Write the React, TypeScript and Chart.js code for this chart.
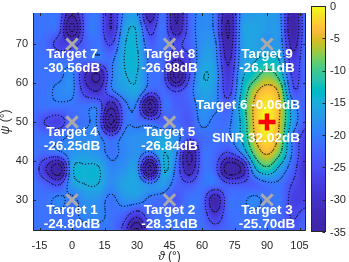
import React, { useEffect, useRef } from "react";
import { Chart, registerables } from "chart.js";

Chart.register(...registerables);

// ---------- data ----------
const thetaGrid = [-18, -12, -6, 0, 6, 12, 18, 24, 30, 36, 42, 48, 54, 60, 66, 72, 78, 84, 90, 96, 102, 108];
const psiGrid = [78, 74, 70, 66, 62, 58, 54, 50, 46, 42, 38, 34, 30, 26, 22];
// beam pattern (dB), one row per psiGrid entry, one column per thetaGrid entry
const powerDb = [
  [-21, -21, -22, -34, -23, -21, -30, -19, -18, -34, -21, -36, -23, -19, -21, -34, -19, -17, -17, -19, -34, -21],
  [-21, -21, -23, -42, -23, -21, -30, -17, -15.5, -27, -21, -34, -23, -18.5, -21, -36, -18, -16, -17, -18.5, -35, -21],
  [-21, -22, -27, -27, -23, -21, -25.5, -15.5, -15, -23, -21, -25.5, -23, -18, -19, -34, -18, -16, -18, -18, -32, -21],
  [-21, -21, -21, -22, -22, -21, -21, -15, -14.5, -21, -22, -30, -25.5, -17, -18, -31, -18, -15.5, -13.5, -15.5, -28, -21],
  [-21, -21, -21, -19, -30, -36, -21, -15.5, -15, -21, -23, -42, -25.5, -15.5, -17, -28.5, -16.5, -12, -8, -12, -26, -22],
  [-21, -21, -19, -19, -27, -30, -21, -17, -16, -23, -22, -25.5, -22, -16, -18, -27, -15, -6.5, -3.3, -6.5, -24, -22],
  [-21, -21, -21, -21, -21, -21, -34, -22, -21, -42, -22, -23, -23, -18, -19, -23, -13.5, -4.5, -1, -5, -18, -23],
  [-22, -25.5, -27, -22, -21, -21, -42, -22, -21, -22, -23, -22, -24, -19, -21, -21, -14.5, -4.5, 0, -5.5, -17, -24],
  [-21, -21, -21, -19, -18.5, -19, -23, -19, -18, -18, -16, -18, -24, -22, -21, -21, -15, -5.5, -1.3, -6.5, -21, -27],
  [-21, -22, -21, -18, -17, -18, -21, -19, -18, -21, -15, -19, -36, -22, -22, -25.5, -20, -9, -4.5, -9.5, -21, -28.5],
  [-22, -30, -39, -16, -14.5, -14.5, -19, -18, -18, -42, -15.5, -21, -34, -22, -23, -39, -35, -16.5, -11, -16.5, -23, -30],
  [-21, -23, -25.5, -17, -15, -15, -18.5, -16, -16, -19, -17, -22, -24, -21, -21, -24, -24, -23, -21, -21, -25.5, -28.5],
  [-21, -21, -19, -21, -18, -18, -21, -18, -18, -21, -22, -24, -21, -22, -34, -22, -21, -19, -21, -21, -27, -27],
  [-21, -21, -21, -21, -19, -19, -21, -23, -28.5, -22, -21, -21, -21, -22, -28.5, -22, -21, -21, -21, -22, -25.5, -23],
  [-21, -21, -21, -21, -21, -21, -21, -27, -42, -23, -21, -21, -21, -21, -23, -22, -21, -21, -21, -22, -24, -22],
];

const targetNames = ["Target 1", "Target 2", "Target 3", "Target 4", "Target 5", "Target 6", "Target 7", "Target 8", "Target 9"];
const targetTheta = [0, 45, 90, 0, 45, 90, 0, 45, 90];
const targetPsi = [30, 30, 30, 50, 50, 50, 70, 70, 70];
const targetGain = ["-24.80dB", "-28.31dB", "-25.70dB", "-26.25dB", "-26.84dB", "-0.06dB", "-30.56dB", "-26.98dB", "-26.11dB"];
const desiredIndex = 5;
const sinrText = "SINR 32.02dB";

const xTicks = [-15, 0, 15, 30, 45, 60, 75, 90, 105];
const yTicks = [30, 40, 50, 60, 70];
const cbTicks = [0, -5, -10, -15, -20, -25, -30, -35];
const contourLevels = [-5, -10, -15, -20, -25, -30, -35, -40, -45];
const xLimits = [-18, 108];
const yLimits = [22, 78];
const cLimits = [-35, 0];
const colorGamma = 1.6;

// MATLAB parula (64)
const parula = [
  [0.2422, 0.1504, 0.6603], [0.2504, 0.165, 0.7076], [0.2578, 0.1818, 0.7511], [0.2647, 0.1978, 0.7952],
  [0.2706, 0.2147, 0.8364], [0.2751, 0.2342, 0.871], [0.2783, 0.2559, 0.8991], [0.2803, 0.2782, 0.9221],
  [0.2813, 0.3006, 0.9414], [0.281, 0.3228, 0.9579], [0.2795, 0.3447, 0.9717], [0.276, 0.3667, 0.9829],
  [0.2699, 0.3892, 0.9906], [0.2602, 0.4123, 0.9952], [0.244, 0.4358, 0.9988], [0.2206, 0.4603, 0.9973],
  [0.1963, 0.4847, 0.9892], [0.1834, 0.5074, 0.9798], [0.1786, 0.5289, 0.9682], [0.1764, 0.5499, 0.952],
  [0.1687, 0.5703, 0.9359], [0.154, 0.5902, 0.9218], [0.146, 0.6091, 0.9079], [0.138, 0.6276, 0.8973],
  [0.1248, 0.6459, 0.8883], [0.1113, 0.6635, 0.8763], [0.0952, 0.6798, 0.8598], [0.0689, 0.6948, 0.8394],
  [0.0297, 0.7082, 0.8163], [0.0036, 0.7203, 0.7917], [0.0067, 0.7312, 0.766], [0.0433, 0.7411, 0.7394],
  [0.0964, 0.75, 0.712], [0.1408, 0.7584, 0.6842], [0.1717, 0.767, 0.6554], [0.1938, 0.7758, 0.6251],
  [0.2161, 0.7843, 0.5923], [0.247, 0.7918, 0.5567], [0.2906, 0.7973, 0.5188], [0.3406, 0.8008, 0.4789],
  [0.3909, 0.8029, 0.4354], [0.4456, 0.8024, 0.3909], [0.5044, 0.7993, 0.348], [0.5616, 0.7942, 0.3045],
  [0.6174, 0.7876, 0.2612], [0.672, 0.7793, 0.2227], [0.7242, 0.7698, 0.191], [0.7738, 0.7598, 0.1646],
  [0.8203, 0.7498, 0.1535], [0.8634, 0.7406, 0.1596], [0.9035, 0.733, 0.1774], [0.9393, 0.7288, 0.21],
  [0.9728, 0.7298, 0.2394], [0.9956, 0.7434, 0.2371], [0.997, 0.7659, 0.2199], [0.9952, 0.7893, 0.2028],
  [0.9892, 0.8136, 0.1885], [0.9786, 0.8386, 0.1766], [0.9676, 0.8639, 0.1643], [0.961, 0.889, 0.1537],
  [0.9597, 0.9135, 0.1423], [0.9628, 0.9373, 0.1265], [0.9691, 0.9606, 0.1064], [0.9769, 0.9839, 0.0805],
];

const FONT = "'Liberation Sans', Arial, Helvetica, sans-serif";
const AXIS_COLOR = "rgb(38,38,38)";

function clampI(i: number, n: number) {
  return i < 0 ? 0 : i > n - 1 ? n - 1 : i;
}
function cubic(p0: number, p1: number, p2: number, p3: number, t: number) {
  return p1 + 0.5 * t * (p2 - p0 + t * (2 * p0 - 5 * p1 + 4 * p2 - p3 + t * (3 * (p1 - p2) + p3 - p0)));
}
function fieldAt(theta: number, psi: number) {
  const nx = thetaGrid.length;
  const ny = psiGrid.length;
  const gx = (theta - thetaGrid[0]) / (thetaGrid[1] - thetaGrid[0]);
  const gy = (psiGrid[0] - psi) / (psiGrid[0] - psiGrid[1]);
  const ix = Math.floor(gx);
  const iy = Math.floor(gy);
  const tx = gx - ix;
  const ty = gy - iy;
  const row = (j: number) => {
    const r = powerDb[clampI(j, ny)];
    return cubic(r[clampI(ix - 1, nx)], r[clampI(ix, nx)], r[clampI(ix + 1, nx)], r[clampI(ix + 2, nx)], tx);
  };
  return cubic(row(iy - 1), row(iy), row(iy + 1), row(iy + 2), ty);
}
function colorFor(v: number): [number, number, number] {
  let t = (v - cLimits[0]) / (cLimits[1] - cLimits[0]);
  t = Math.max(0, Math.min(1, t));
  t = Math.pow(t, colorGamma);
  const f = t * (parula.length - 1);
  const i = Math.min(parula.length - 2, Math.floor(f));
  const u = f - i;
  const a = parula[i];
  const b = parula[i + 1];
  return [
    Math.round(255 * (a[0] + (b[0] - a[0]) * u)),
    Math.round(255 * (a[1] + (b[1] - a[1]) * u)),
    Math.round(255 * (a[2] + (b[2] - a[2]) * u)),
  ];
}

const heatmapPlugin = {
  id: "heatmap",
  beforeDatasetsDraw(chart: any) {
    const { ctx, chartArea } = chart;
    const xs = chart.scales.x;
    const ys = chart.scales.y;
    const left = Math.round(chartArea.left);
    const top = Math.round(chartArea.top);
    const w = Math.round(chartArea.right) - left;
    const h = Math.round(chartArea.bottom) - top;
    const off = document.createElement("canvas");
    off.width = w;
    off.height = h;
    const octx = off.getContext("2d")!;
    const img = octx.createImageData(w, h);
    for (let py = 0; py < h; py++) {
      const psi = ys.getValueForPixel(top + py + 0.5);
      for (let px = 0; px < w; px++) {
        const theta = xs.getValueForPixel(left + px + 0.5);
        const c = colorFor(fieldAt(theta, psi));
        const k = (py * w + px) * 4;
        img.data[k] = c[0];
        img.data[k + 1] = c[1];
        img.data[k + 2] = c[2];
        img.data[k + 3] = 255;
      }
    }
    octx.putImageData(img, 0, 0);
    ctx.save();
    ctx.drawImage(off, left, top);

    // dotted contours
    const step = 3;
    const nx = Math.floor(w / step) + 1;
    const ny = Math.floor(h / step) + 1;
    const vals = new Float32Array(nx * ny);
    for (let j = 0; j < ny; j++) {
      const psi = ys.getValueForPixel(top + j * step);
      for (let i = 0; i < nx; i++) {
        vals[j * nx + i] = fieldAt(xs.getValueForPixel(left + i * step), psi);
      }
    }
    ctx.fillStyle = "rgba(0,0,0,0.75)";
    const pts: number[] = [];
    const edge = (va: number, vb: number, xa: number, ya: number, xb: number, yb: number, lv: number) => {
      if ((va < lv) !== (vb < lv)) {
        const t = (lv - va) / (vb - va);
        pts.push(xa + (xb - xa) * t, ya + (yb - ya) * t);
      }
    };
    for (const lv of contourLevels) {
      for (let j = 0; j < ny - 1; j++) {
        for (let i = 0; i < nx - 1; i++) {
          const a = vals[j * nx + i];
          const b = vals[j * nx + i + 1];
          const c = vals[(j + 1) * nx + i + 1];
          const d = vals[(j + 1) * nx + i];
          const x0 = left + i * step;
          const y0 = top + j * step;
          const x1 = x0 + step;
          const y1 = y0 + step;
          pts.length = 0;
          edge(a, b, x0, y0, x1, y0, lv);
          edge(b, c, x1, y0, x1, y1, lv);
          edge(c, d, x1, y1, x0, y1, lv);
          edge(d, a, x0, y1, x0, y0, lv);
          for (let k = 0; k + 3 < pts.length; k += 4) {
            const mx = (pts[k] + pts[k + 2]) / 2;
            const my = (pts[k + 1] + pts[k + 3]) / 2;
            ctx.fillRect(mx - 0.6, my - 0.6, 1.2, 1.2);
          }
        }
      }
    }
    ctx.restore();
  },
};

const overlayPlugin = {
  id: "overlay",
  afterDatasetsDraw(chart: any) {
    const { ctx } = chart;
    const xs = chart.scales.x;
    const ys = chart.scales.y;
    ctx.save();
    ctx.fillStyle = "#ffffff";
    ctx.textAlign = "center";
    ctx.textBaseline = "middle";
    ctx.font = `bold 13.5px ${FONT}`;
    for (let i = 0; i < targetNames.length; i++) {
      const px = xs.getPixelForValue(targetTheta[i]);
      const py = ys.getPixelForValue(targetPsi[i]);
      if (i === desiredIndex) {
        ctx.fillText(`${targetNames[i]} ${targetGain[i]}`, px - 19, py - 17);
        ctx.fillText(sinrText, px - 11, py + 16);
      } else {
        ctx.fillText(targetNames[i], px, py + 10);
        ctx.fillText(targetGain[i], px, py + 24.5);
      }
    }
    ctx.restore();
  },
  afterDraw(chart: any) {
    const { ctx, chartArea } = chart;
    const xs = chart.scales.x;
    const ys = chart.scales.y;
    const { left, right, top, bottom } = chartArea;
    ctx.save();
    // axes box and inward ticks
    ctx.strokeStyle = AXIS_COLOR;
    ctx.lineWidth = 1;
    ctx.beginPath();
    ctx.moveTo(left + 0.5, top);
    ctx.lineTo(left + 0.5, bottom - 0.5);
    ctx.lineTo(right - 0.5, bottom - 0.5);
    ctx.lineTo(right - 0.5, top);
    ctx.stroke();
    ctx.beginPath();
    for (const v of xTicks) {
      const p = Math.round(xs.getPixelForValue(v)) + 0.5;
      ctx.moveTo(p, bottom);
      ctx.lineTo(p, bottom - 3);
      ctx.moveTo(p, top);
      ctx.lineTo(p, top + 3);
    }
    for (const v of yTicks) {
      const p = Math.round(ys.getPixelForValue(v)) + 0.5;
      ctx.moveTo(left, p);
      ctx.lineTo(left + 3, p);
      ctx.moveTo(right, p);
      ctx.lineTo(right - 3, p);
    }
    ctx.stroke();

    // colorbar
    const cbL = 311;
    const cbR = 326;
    const cbT = 6;
    const cbB = 232;
    for (let y = cbT; y < cbB; y++) {
      const v = cLimits[1] - ((y + 0.5 - cbT) / (cbB - cbT)) * (cLimits[1] - cLimits[0]);
      const c = colorFor(v);
      ctx.fillStyle = `rgb(${c[0]},${c[1]},${c[2]})`;
      ctx.fillRect(cbL, y, cbR - cbL, 1);
    }
    ctx.strokeStyle = AXIS_COLOR;
    ctx.strokeRect(cbL + 0.5, cbT + 0.5, cbR - cbL - 1, cbB - cbT - 1);
    ctx.fillStyle = AXIS_COLOR;
    ctx.font = `11px ${FONT}`;
    ctx.textAlign = "left";
    ctx.textBaseline = "middle";
    ctx.beginPath();
    for (const v of cbTicks) {
      const y = cbT + ((cLimits[1] - v) / (cLimits[1] - cLimits[0])) * (cbB - cbT);
      const yy = Math.round(y) + 0.5;
      ctx.moveTo(cbR - 1, yy);
      ctx.lineTo(cbR - 3.5, yy);
      ctx.fillText(String(v), 330, y + 0.5);
    }
    ctx.stroke();

    // axis titles
    ctx.textBaseline = "middle";
    const drawTitle = (greek: string, rest: string, cx: number, cy: number) => {
      ctx.font = `italic 12px ${FONT}`;
      const w1 = ctx.measureText(greek).width;
      ctx.font = `12px ${FONT}`;
      const w2 = ctx.measureText(rest).width;
      const x0 = cx - (w1 + w2) / 2;
      ctx.textAlign = "left";
      ctx.font = `italic 12px ${FONT}`;
      ctx.fillText(greek, x0, cy);
      ctx.font = `12px ${FONT}`;
      ctx.fillText(rest, x0 + w1, cy);
    };
    drawTitle("\u03d1", " (\u00b0)", (left + right) / 2, 257);
    ctx.save();
    ctx.translate(6, (top + bottom) / 2);
    ctx.rotate(-Math.PI / 2);
    drawTitle("\u03c8", " (\u00b0)", 0, 0);
    ctx.restore();
    ctx.restore();
  },
};

export default function App() {
  const ref = useRef<HTMLCanvasElement>(null);
  useEffect(() => {
    const canvas = ref.current;
    if (!canvas) return;
    const others = targetNames.map((_, i) => i).filter((i) => i !== desiredIndex);
    const chart = new Chart(canvas, {
      type: "scatter",
      data: {
        datasets: [
          {
            data: others.map((i) => ({ x: targetTheta[i], y: targetPsi[i] })),
            pointStyle: "crossRot",
            pointRadius: 8,
            pointBorderWidth: 3,
            pointBorderColor: "rgb(170,170,170)",
            pointBackgroundColor: "rgb(170,170,170)",
          },
          {
            data: [{ x: targetTheta[desiredIndex], y: targetPsi[desiredIndex] }],
            pointStyle: "cross",
            pointRadius: 8.5,
            pointBorderWidth: 4.5,
            pointBorderColor: "rgb(255,0,0)",
            pointBackgroundColor: "rgb(255,0,0)",
          },
        ],
      },
      options: {
        animation: false,
        responsive: false,
        events: [],
        layout: { padding: { left: 0, right: 43, top: 0, bottom: 0 } },
        plugins: { legend: { display: false }, tooltip: { enabled: false } },
        scales: {
          x: {
            type: "linear",
            min: xLimits[0],
            max: xLimits[1],
            grid: { display: false, drawTicks: false },
            border: { display: false },
            ticks: { font: { family: FONT, size: 11 }, color: AXIS_COLOR, padding: 8, autoSkip: false, maxRotation: 0 },
            afterBuildTicks: (s: any) => {
              s.ticks = xTicks.map((v) => ({ value: v }));
            },
            afterFit: (s: any) => {
              s.height = 31;
            },
          },
          y: {
            type: "linear",
            min: yLimits[0],
            max: yLimits[1],
            grid: { display: false, drawTicks: false },
            border: { display: false },
            ticks: { font: { family: FONT, size: 11 }, color: AXIS_COLOR, padding: 5, autoSkip: false },
            afterBuildTicks: (s: any) => {
              s.ticks = yTicks.map((v) => ({ value: v }));
            },
            afterFit: (s: any) => {
              s.width = 33;
            },
          },
        },
      },
      plugins: [heatmapPlugin, overlayPlugin],
    } as any);
    return () => chart.destroy();
  }, []);
  return (
    <div style={{ position: "fixed", left: 0, top: 0, width: 349, height: 262, background: "#fff" }}>
      <canvas ref={ref} width={349} height={262} style={{ display: "block", width: 349, height: 262 }} />
    </div>
  );
}
